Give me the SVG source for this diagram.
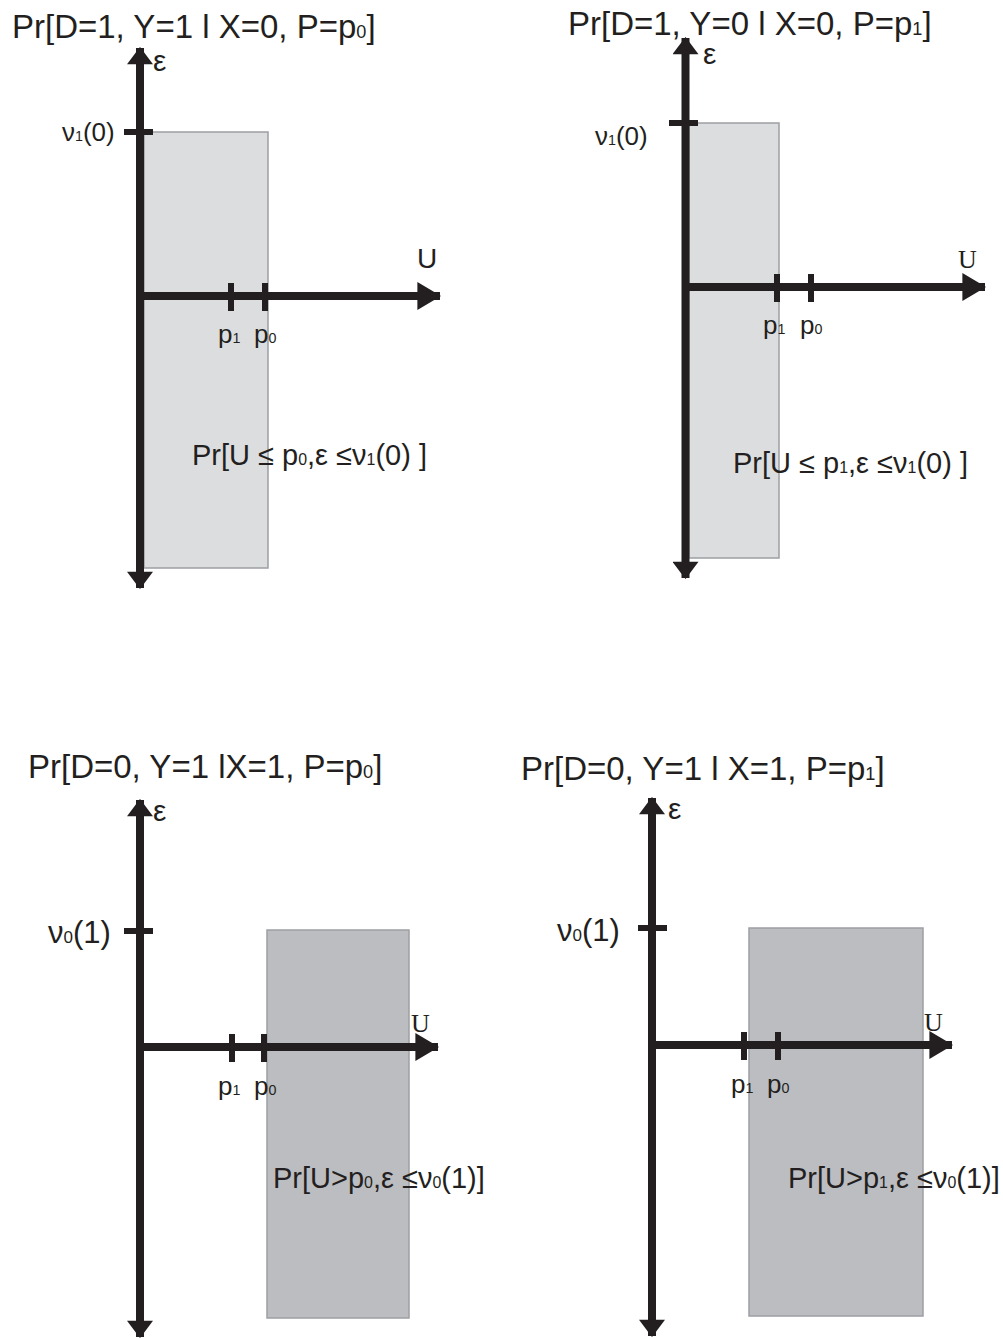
<svg xmlns="http://www.w3.org/2000/svg" width="1003" height="1338" viewBox="0 0 1003 1338">
<style>
text{font-family:"Liberation Sans","DejaVu Sans",sans-serif;fill:#231f20}
.t{font-size:33px}
.r{font-size:29px}
.lab{font-size:26px}
.lab2{font-size:31px}
.p{font-size:26px}
.eps{font-size:30px}
.us{font-size:28px}
.uf{font-family:"Liberation Serif",serif;font-size:26px}
.sub{font-size:0.55em}
.ax{stroke:#231f20;stroke-width:8;fill:none}
.tk{stroke:#231f20;stroke-width:6}
.r1{fill:#dcdddf;stroke:#9d9fa2;stroke-width:1.5}
.r2{fill:#bcbdc0;stroke:#9d9fa2;stroke-width:1.5}
</style>
<defs>
<marker id="ah" markerUnits="userSpaceOnUse" markerWidth="24" markerHeight="28" viewBox="0 -13 22 26" refX="21" refY="0" orient="auto-start-reverse">
<path d="M0,-13 L22,0 L0,13 z" fill="#231f20"/>
</marker>
<marker id="av" markerUnits="userSpaceOnUse" markerWidth="18" markerHeight="26" viewBox="0 -12 16 24" refX="15" refY="0" orient="auto-start-reverse">
<path d="M0,-12 L16,0 L0,12 z" fill="#231f20"/>
</marker>
</defs>

<g id="panel1">
<rect class="r1" x="144" y="132" width="124" height="436"/>
<text class="t" x="12" y="38">Pr[D=1, Y=1 l X=0, P=p<tspan class="sub">0</tspan>]</text>
<text class="eps" x="153" y="71">ε</text>
<text class="lab" x="62" y="141">ν<tspan class="sub">1</tspan>(0)</text>
<text class="us" x="417" y="268">U</text>
<text class="p" x="218" y="343">p<tspan class="sub">1</tspan></text>
<text class="p" x="254" y="343">p<tspan class="sub">0</tspan></text>
<text class="r" x="192" y="465">Pr[U ≤ p<tspan class="sub">0</tspan>,ε ≤ν<tspan class="sub">1</tspan>(0) ]</text>
</g>

<g id="panel2">
<rect class="r1" x="689" y="123" width="90" height="435"/>
<text class="t" x="568" y="35">Pr[D=1, Y=0 l X=0, P=p<tspan class="sub">1</tspan>]</text>
<text class="eps" x="703" y="64">ε</text>
<text class="lab" x="595" y="145">ν<tspan class="sub">1</tspan>(0)</text>
<text class="uf" x="958" y="268">U</text>
<text class="p" x="763" y="334">p<tspan class="sub">1</tspan></text>
<text class="p" x="800" y="334">p<tspan class="sub">0</tspan></text>
<text class="r" x="733" y="473">Pr[U ≤ p<tspan class="sub">1</tspan>,ε ≤ν<tspan class="sub">1</tspan>(0) ]</text>
</g>

<g id="panel3">
<rect class="r2" x="267" y="930" width="142" height="388"/>
<text class="t" x="28" y="778">Pr[D=0, Y=1 lX=1, P=p<tspan class="sub">0</tspan>]</text>
<text class="eps" x="153" y="821">ε</text>
<text class="lab2" x="48" y="943">ν<tspan class="sub">0</tspan>(1)</text>
<text class="uf" x="411" y="1032">U</text>
<text class="p" x="218" y="1095">p<tspan class="sub">1</tspan></text>
<text class="p" x="254" y="1095">p<tspan class="sub">0</tspan></text>
<text class="r" x="273" y="1188">Pr[U&gt;p<tspan class="sub">0</tspan>,ε ≤ν<tspan class="sub">0</tspan>(1)]</text>
</g>

<g id="panel4">
<rect class="r2" x="749" y="928" width="174" height="388"/>
<text class="t" x="521" y="780">Pr[D=0, Y=1 l X=1, P=p<tspan class="sub">1</tspan>]</text>
<text class="eps" x="668" y="819">ε</text>
<text class="lab2" x="557" y="941">ν<tspan class="sub">0</tspan>(1)</text>
<text class="uf" x="924" y="1031">U</text>
<text class="p" x="731" y="1093">p<tspan class="sub">1</tspan></text>
<text class="p" x="767" y="1093">p<tspan class="sub">0</tspan></text>
<text class="r" x="788" y="1188">Pr[U&gt;p<tspan class="sub">1</tspan>,ε ≤ν<tspan class="sub">0</tspan>(1)]</text>
</g>

<g id="connectors">
<line class="ax" x1="140" y1="48" x2="140" y2="588" marker-start="url(#av)" marker-end="url(#av)"/>
<line class="ax" x1="136" y1="296" x2="440" y2="296" marker-end="url(#ah)"/>
<line class="tk" x1="124" y1="132" x2="153" y2="132"/>
<line class="tk" x1="231" y1="283" x2="231" y2="311"/>
<line class="tk" x1="265" y1="283" x2="265" y2="311"/>

<line class="ax" x1="685.5" y1="38" x2="685.5" y2="578" marker-start="url(#av)" marker-end="url(#av)"/>
<line class="ax" x1="682" y1="287" x2="985" y2="287" marker-end="url(#ah)"/>
<line class="tk" x1="669" y1="123" x2="698" y2="123"/>
<line class="tk" x1="777" y1="274" x2="777" y2="302"/>
<line class="tk" x1="811" y1="274" x2="811" y2="302"/>

<line class="ax" x1="140" y1="800" x2="140" y2="1337" marker-start="url(#av)" marker-end="url(#av)"/>
<line class="ax" x1="136" y1="1047" x2="438" y2="1047" marker-end="url(#ah)"/>
<line class="tk" x1="124" y1="931" x2="153" y2="931"/>
<line class="tk" x1="232" y1="1034" x2="232" y2="1062"/>
<line class="tk" x1="264" y1="1034" x2="264" y2="1062"/>

<line class="ax" x1="652" y1="798" x2="652" y2="1336" marker-start="url(#av)" marker-end="url(#av)"/>
<line class="ax" x1="648" y1="1045" x2="952" y2="1045" marker-end="url(#ah)"/>
<line class="tk" x1="638" y1="928" x2="667" y2="928"/>
<line class="tk" x1="744" y1="1032" x2="744" y2="1060"/>
<line class="tk" x1="778" y1="1032" x2="778" y2="1060"/>
</g>
</svg>
